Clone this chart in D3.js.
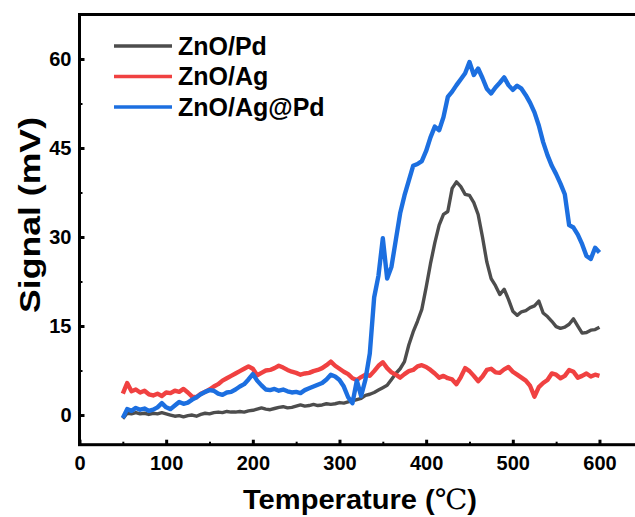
<!DOCTYPE html>
<html>
<head>
<meta charset="utf-8">
<script src="https://cdn.jsdelivr.net/npm/d3@7"></script>
<style>
  html, body { margin: 0; padding: 0; background: #fff; }
  svg { display: block; }
  text { font-family: "Liberation Sans", Arial, sans-serif; font-weight: bold; fill: #000; }
</style>
</head>
<body>
<svg id="chart" width="635" height="517"></svg>
<script>
// Temperature grid (°C) shared by the three signal traces
const temps = [
  50, 55, 60, 65, 70, 75, 80, 85, 90, 95,
  100, 105, 110, 115, 120, 125, 130, 135, 140, 145,
  150, 155, 160, 165, 170, 175, 180, 185, 190, 195,
  200, 205, 210, 215, 220, 225, 230, 235, 240, 245,
  250, 255, 260, 265, 270, 275, 280, 285, 290, 295,
  300, 305, 310, 315, 320, 325, 330, 335, 340, 345,
  350, 355, 360, 365, 370, 375, 380, 385, 390, 395,
  400, 405, 410, 415, 420, 425, 430, 435, 440, 445,
  450, 455, 460, 465, 470, 475, 480, 485, 490, 495,
  500, 505, 510, 515, 520, 525, 530, 535, 540, 545,
  550, 555, 560, 565, 570, 575, 580, 585, 590, 595,
  600
];

// Signal (mV) of each sample
const znoPd = [
  -0.6, 0.3, 0.2, 0.4, 0.2, 0.3, 0.1, 0.3, 0.2, 0.4,
  0.2, 0.0, -0.2, -0.1, -0.3, -0.1, 0.0, -0.2, 0.1, 0.3,
  0.2, 0.4, 0.5, 0.4, 0.6, 0.5, 0.5, 0.6, 0.5, 0.7,
  0.8, 1.0, 1.2, 1.0, 0.9, 1.1, 1.3, 1.4, 1.2, 1.3,
  1.5, 1.7, 1.5, 1.6, 1.8, 1.6, 1.7, 1.9, 1.8, 1.9,
  2.1, 2.0, 2.2, 2.4, 2.6, 2.8, 3.3, 3.5, 3.8, 4.2,
  4.6, 5.0, 6.0, 7.0, 7.8, 9.0, 11.8, 14.0, 15.8, 17.8,
  21.5, 25.5, 29.0, 32.0, 33.8, 34.3, 38.2, 39.3, 38.5, 37.2,
  37.0, 35.8, 33.8, 30.0, 25.8, 23.0, 21.8, 20.3, 21.2, 19.5,
  17.5, 16.8, 17.4, 17.6, 18.1, 18.4, 19.2, 17.2, 16.6, 15.8,
  14.9, 14.6, 14.8, 15.3, 16.2, 15.0, 13.8, 13.9, 14.3, 14.4,
  14.8
];

const znoAg = [
  3.6, 5.4, 4.0, 4.3, 3.8, 4.1, 3.5, 3.3, 3.6, 3.2,
  3.8, 3.7, 4.1, 3.9, 4.4, 3.8, 3.1, 3.0, 3.6, 3.9,
  4.3, 4.8, 5.2, 5.8, 6.2, 6.6, 7.0, 7.4, 7.8, 8.2,
  7.8, 6.7, 7.1, 7.5, 7.6, 7.9, 8.3, 8.0, 7.6, 7.3,
  7.1, 6.8, 7.0, 7.1, 7.4, 7.6, 7.9, 8.4, 9.0, 8.3,
  7.8, 7.3, 6.9, 6.2, 5.9, 6.4, 6.8, 6.6, 7.4, 8.3,
  8.9, 7.9, 7.2, 6.8, 6.3, 6.9, 7.4, 7.6, 8.2, 8.4,
  8.1, 7.6, 7.0, 6.3, 6.6, 6.2, 6.0, 5.2, 6.4, 7.9,
  7.4, 6.6, 5.7, 6.5, 7.6, 7.8, 7.2, 7.1, 7.7, 8.1,
  7.3, 6.8, 6.3, 5.8, 4.9, 3.1, 4.7, 5.4, 5.9, 7.0,
  6.8, 6.2, 6.6, 7.6, 7.3, 6.3, 6.6, 7.0, 6.5, 6.8,
  6.6
];

const znoAgPd = [
  -0.5, 1.0, 0.7, 1.2, 0.9, 1.1, 0.7, 0.9, 1.3, 2.0,
  1.3, 1.0, 1.6, 2.2, 1.9, 2.1, 2.6, 3.0, 3.5, 3.9,
  4.2, 4.1, 3.6, 3.4, 3.8, 3.9, 4.3, 4.8, 5.2, 6.0,
  6.9, 5.8, 5.0, 4.3, 4.2, 4.4, 4.1, 4.3, 4.0, 3.8,
  3.9, 3.7, 4.2, 4.5, 4.8, 5.1, 5.4, 6.0, 6.8, 6.5,
  5.9, 4.8, 3.0, 2.0, 5.8, 3.2, 6.0, 10.4, 19.8, 23.5,
  29.8, 23.0, 25.0, 29.5, 34.0, 37.0, 39.5, 42.0, 42.3, 42.8,
  44.5, 46.8, 48.6, 48.0, 50.2, 53.6, 54.5, 55.6, 56.6, 57.6,
  59.5, 57.3, 58.4, 56.8, 55.0, 54.2, 55.2, 56.0, 56.9, 55.6,
  54.8, 55.5, 55.0, 53.9, 52.6, 51.0, 48.8, 46.0, 43.8, 42.0,
  40.6, 39.0, 37.2, 32.0, 31.6, 30.4, 28.8, 26.8, 26.3, 28.2,
  27.4
];

const seriesNames = ["ZnO/Pd", "ZnO/Ag", "ZnO/Ag@Pd"];
const seriesColors = ["#4d4d4d", "#f04141", "#1c6fe0"];
const xTicks = [0, 100, 200, 300, 400, 500, 600];
const xMinorTicks = [50, 150, 250, 350, 450, 550];
const yTicks = [0, 15, 30, 45, 60];
const yMinorTicks = [7.5, 22.5, 37.5, 52.5];

const svg = d3.select("#chart");

const x = d3.scaleLinear().domain([0, 650]).range([79.5, 642.8]);
const y = d3.scaleLinear().domain([-5, 67.5]).range([444.7, 14.5]);

const plot = svg.append("g");

// Signal traces (noisy detector output, drawn as heavy strokes)
const traces = [znoPd, znoAg, znoAgPd];
const widths = [3.4, 4.4, 4.4];
const line = d3.line()
  .x(d => x(d[0]))
  .y(d => y(d[1]));

traces.forEach((vals, i) => {
  plot.append("path")
    .datum(temps.map((t, k) => [t, vals[k]]))
    .attr("fill", "none")
    .attr("stroke", seriesColors[i])
    .attr("stroke-width", widths[i])
    .attr("stroke-linejoin", "round")
    .attr("d", line);
});

// Frame
svg.append("rect")
  .attr("x", x(0)).attr("y", y(67.5))
  .attr("width", x(650) - x(0)).attr("height", y(-5) - y(67.5))
  .attr("fill", "none").attr("stroke", "#000").attr("stroke-width", 3);

// Bottom axis: major and minor ticks pointing inward
const xAxis = svg.append("g")
  .attr("transform", `translate(0,${y(-5)})`)
  .call(d3.axisBottom(x).tickValues(xTicks).tickSize(-5).tickPadding(11).tickFormat(d3.format("d")));
xAxis.select(".domain").remove();
xAxis.selectAll(".tick line").attr("stroke-width", 3);
xAxis.selectAll(".tick text").attr("font-size", 20).attr("font-family", null);

const xMinor = svg.append("g")
  .attr("transform", `translate(0,${y(-5)})`)
  .call(d3.axisBottom(x).tickValues(xMinorTicks).tickSize(-3).tickFormat(""));
xMinor.select(".domain").remove();
xMinor.selectAll(".tick line").attr("stroke-width", 2);

// Left axis
const yAxis = svg.append("g")
  .attr("transform", `translate(${x(0)},0)`)
  .call(d3.axisLeft(y).tickValues(yTicks).tickSize(-5).tickPadding(8).tickFormat(d3.format("d")));
yAxis.select(".domain").remove();
yAxis.selectAll(".tick line").attr("stroke-width", 3);
yAxis.selectAll(".tick text").attr("font-size", 20).attr("font-family", null);

const yMinor = svg.append("g")
  .attr("transform", `translate(${x(0)},0)`)
  .call(d3.axisLeft(y).tickValues(yMinorTicks).tickSize(-3).tickFormat(""));
yMinor.select(".domain").remove();
yMinor.selectAll(".tick line").attr("stroke-width", 2);

// Axis titles
const xTitle = svg.append("text")
  .attr("x", 360).attr("y", 509)
  .attr("text-anchor", "middle")
  .attr("font-size", 28)
  .attr("textLength", 234)
  .attr("lengthAdjust", "spacingAndGlyphs");
xTitle.append("tspan").text("Temperature (");
xTitle.append("tspan").attr("font-family", "'DejaVu Serif', 'Liberation Serif', serif").attr("font-weight", "normal").text("℃");
xTitle.append("tspan").text(")");

svg.append("text")
  .attr("transform", "translate(40,215) rotate(-90)")
  .attr("text-anchor", "middle")
  .attr("font-size", 29)
  .attr("textLength", 196)
  .attr("lengthAdjust", "spacingAndGlyphs")
  .text("Signal (mV)");

// Legend
const legend = svg.append("g");
seriesNames.forEach((name, i) => {
  const ly = 46 + i * 30.5;
  legend.append("line")
    .attr("x1", 114).attr("x2", 172)
    .attr("y1", ly).attr("y2", ly)
    .attr("stroke", seriesColors[i]).attr("stroke-width", 3.5);
  legend.append("text")
    .attr("x", 178).attr("y", ly + 8.5)
    .attr("font-size", 25)
    .text(name);
});
</script>
</body>
</html>
